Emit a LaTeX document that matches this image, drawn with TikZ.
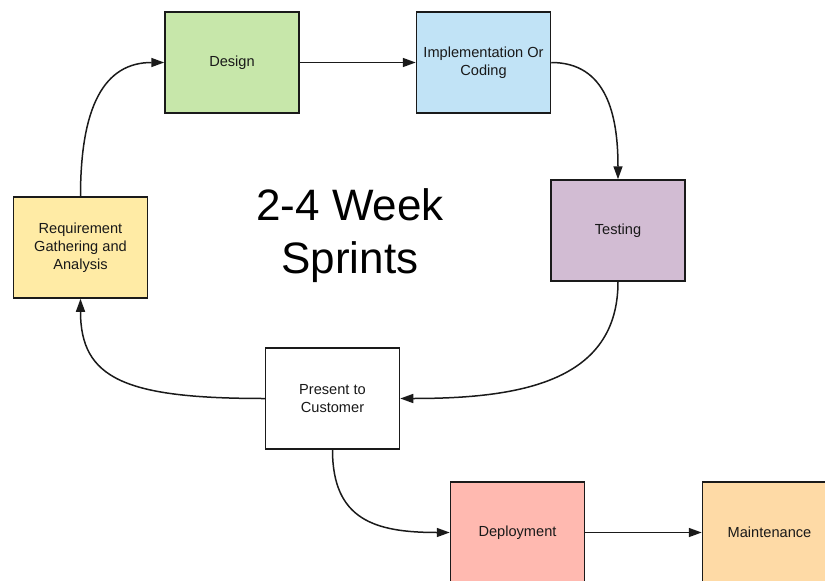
\documentclass[tikz,border=0pt]{standalone}
\usepackage{fontspec}
\setmainfont{Liberation Sans}
\usetikzlibrary{arrows.meta}
\definecolor{cDesign}{HTML}{C7E7AA}
\definecolor{cImpl}{HTML}{C1E3F6}
\definecolor{cTest}{HTML}{D2BCD3}
\definecolor{cReq}{HTML}{FFEBA5}
\definecolor{cDep}{HTML}{FFB9B0}
\definecolor{cMaint}{HTML}{FEDAA6}
\definecolor{cLine}{HTML}{1A1A1A}
\tikzset{
  stepbox/.style={draw=cLine, line width=1.5pt, minimum width=134pt, minimum height=101pt,
    inner sep=0pt, align=center, font=\fontsize{14.6}{18}\selectfont, text=black!90},
  conn/.style={draw=cLine, line width=1.5pt, -{Triangle[length=13pt,width=9pt]}},
}
\begin{document}
\begin{tikzpicture}[x=1pt,y=-1pt]
\useasboundingbox (0,0) rectangle (825,581);
\node[stepbox, fill=cDesign] (design) at (232,62.5) {Design};
\node[stepbox, fill=cImpl] (impl) at (483.5,62.5) {Implementation Or\\Coding};
\node[stepbox, fill=cTest] (test) at (618,230.5) {Testing};
\node[stepbox, fill=cReq] (req) at (80.5,247.5) {Requirement\\Gathering and\\Analysis};
\node[stepbox, fill=white] (pres) at (332.5,398.5) {Present to\\Customer};
\node[stepbox, fill=cDep] (dep) at (517.5,532.5) {Deployment};
\node[stepbox, fill=cMaint] (maint) at (769.5,532.5) {Maintenance};
\node[align=center, font=\fontsize{44}{53}\selectfont] (title) at (350,236) {2-4 Week\\Sprints};

\draw[conn] (req.north) .. controls ++(0,-90) and ++(-60,0) .. (design.west);
\draw[conn] (design.east) -- (impl.west);
\draw[conn] (impl.east) .. controls ++(55,0) and ++(0,-65) .. (test.north);
\draw[conn] (test.south) .. controls ++(0,100) and ++(120,0) .. (pres.east);
\draw[conn] (pres.west) .. controls ++(-140,0) and ++(0,80) .. (req.south);
\draw[conn] (pres.south) .. controls ++(0,70) and ++(-75,0) .. (dep.west);
\draw[conn] (dep.east) -- (maint.west);
\end{tikzpicture}
\end{document}
